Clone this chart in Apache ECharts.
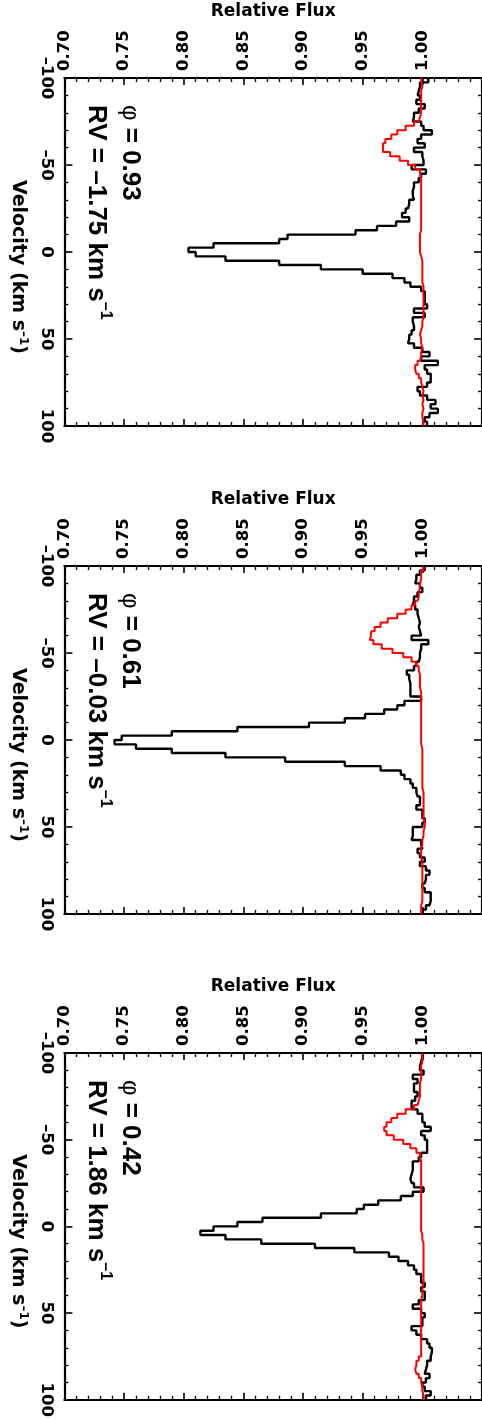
<!DOCTYPE html>
<html><head><meta charset="utf-8">
<script src="https://cdn.jsdelivr.net/npm/echarts@6/dist/echarts.min.js"></script>
<style>html,body{margin:0;padding:0;background:#fff;}#c{width:482px;height:1420px;}</style>
</head><body><div id="c"></div>
<script>
// ---- data ----
const velocityCenters = [
 -98.75,-96.25,-93.75,-91.25,-88.75,-86.25,-83.75,-81.25,-78.75,-76.25,
 -73.75,-71.25,-68.75,-66.25,-63.75,-61.25,-58.75,-56.25,-53.75,-51.25,
 -48.75,-46.25,-43.75,-41.25,-38.75,-36.25,-33.75,-31.25,-28.75,-26.25,
 -23.75,-21.25,-18.75,-16.25,-13.75,-11.25,-8.75,-6.25,-3.75,-1.25,
 1.25,3.75,6.25,8.75,11.25,13.75,16.25,18.75,21.25,23.75,
 26.25,28.75,31.25,33.75,36.25,38.75,41.25,43.75,46.25,48.75,
 51.25,53.75,56.25,58.75,61.25,63.75,66.25,68.75,71.25,73.75,
 76.25,78.75,81.25,83.75,86.25,88.75,91.25,93.75,96.25,98.75];
const binHalfWidth = 1.25;

const obsPhase093 = [
 1.005,0.998,0.997,0.996,0.998,0.995,1.002,0.997,0.993,0.992,
 0.999,1.001,1.008,0.999,0.996,1.002,0.993,1.000,1.001,1.001,
 0.991,1.003,0.999,0.997,0.993,0.992,0.992,0.993,0.989,0.988,
 0.986,0.983,0.989,0.978,0.962,0.944,0.887,0.880,0.825,0.804,
 0.810,0.835,0.880,0.915,0.950,0.975,0.985,0.990,0.999,1.002,
 1.002,1.002,1.004,0.993,1.002,0.992,0.993,0.993,0.991,0.989,
 0.988,0.993,1.000,1.006,0.999,1.013,1.002,1.004,1.007,1.007,
 1.004,0.996,0.998,1.004,1.011,1.007,1.013,1.006,1.002,1.004];
const modPhase093 = [
 0.999,1.000,0.999,0.999,0.999,0.999,0.999,0.999,0.998,0.997,
 0.993,0.986,0.979,0.974,0.969,0.967,0.967,0.973,0.981,0.988,
 0.994,0.998,0.999,0.999,0.999,0.999,0.999,0.999,0.999,0.999,
 0.999,0.999,0.999,0.999,0.999,0.998,0.998,0.998,0.998,0.998,
 0.999,1.000,1.000,1.000,1.000,1.000,1.000,1.001,1.001,1.001,
 1.001,1.001,1.001,1.001,1.001,1.000,1.000,0.999,0.998,0.999,
 0.999,1.000,0.999,0.999,0.998,0.996,0.994,0.995,0.997,0.999,
 1.000,1.001,1.000,1.001,1.000,1.001,1.000,1.000,1.001,1.001];

const obsPhase061 = [
 1.002,0.998,0.995,0.994,0.998,1.000,0.996,0.993,0.992,0.994,
 0.996,0.997,0.998,0.997,0.998,0.999,0.991,1.005,0.999,0.998,
 0.998,0.997,0.995,0.993,0.987,0.989,0.990,0.990,0.990,0.990,
 0.999,0.985,0.979,0.968,0.952,0.935,0.905,0.845,0.790,0.748,
 0.742,0.760,0.790,0.835,0.885,0.935,0.965,0.982,0.985,0.990,
 0.992,0.995,0.996,0.998,0.998,0.995,1.000,1.000,1.002,1.000,
 0.992,0.992,0.991,0.999,1.000,0.996,0.998,1.002,0.998,1.003,
 1.006,1.003,1.002,1.000,1.002,1.007,1.007,1.006,1.003,1.000];
const modPhase061 = [
 1.001,0.999,0.999,0.998,0.998,0.997,0.997,0.996,0.994,0.991,
 0.986,0.979,0.971,0.965,0.960,0.957,0.956,0.959,0.966,0.975,
 0.984,0.991,0.995,0.997,0.998,0.998,0.998,0.998,0.999,0.999,
 0.999,0.999,0.999,0.999,0.999,0.999,0.999,0.999,0.999,0.999,
 0.999,1.000,1.000,1.000,1.000,1.000,1.000,1.000,1.000,1.000,
 1.000,1.001,1.001,1.001,1.001,1.001,1.001,1.001,1.002,1.002,
 1.001,1.001,1.000,1.000,0.999,0.999,0.999,1.000,1.000,1.000,
 1.000,1.000,1.000,1.000,1.000,1.000,1.000,0.999,0.999,0.999];

const obsPhase042 = [
 1.000,0.999,0.998,0.998,1.001,0.992,0.996,0.993,0.993,0.996,
 0.994,0.991,0.991,0.996,1.000,1.000,1.002,1.007,0.999,1.002,
 1.004,1.004,1.004,0.999,0.997,0.992,0.992,0.991,0.990,0.991,
 0.993,1.001,0.992,0.982,0.963,0.951,0.945,0.915,0.866,0.845,
 0.825,0.814,0.835,0.865,0.910,0.943,0.972,0.980,0.988,0.993,
 0.995,0.999,0.999,1.002,0.999,1.002,1.002,0.997,0.992,0.999,
 1.002,1.000,1.000,0.991,0.995,0.999,1.004,1.006,1.008,1.007,
 1.007,1.004,1.003,1.002,1.006,1.003,1.000,1.002,1.007,1.003];
const modPhase042 = [
 1.000,1.000,0.999,0.999,0.999,0.999,0.998,0.998,0.998,0.998,
 0.997,0.996,0.993,0.986,0.979,0.974,0.970,0.968,0.970,0.976,
 0.984,0.990,0.995,0.998,0.999,0.999,0.999,0.999,0.999,0.999,
 0.999,0.999,0.999,0.999,0.999,0.999,0.999,0.999,0.999,0.999,
 0.999,1.000,1.000,1.001,1.001,1.001,1.001,1.001,1.001,1.001,
 1.001,1.001,1.001,1.000,1.000,1.000,0.999,0.999,0.999,0.999,
 0.999,0.999,0.999,0.999,0.999,0.999,0.999,0.999,0.999,0.999,
 0.997,0.995,0.994,0.995,0.997,0.999,1.000,1.000,1.001,1.001];

const phaseLabels = ['0.93', '0.61', '0.42'];
const rvLabels = ['\u20131.75', '\u20130.03', '1.86'];
const fluxTickLabels = ['0.70','0.75','0.80','0.85','0.90','0.95','1.00'];

// ---- chart ----
const chart = echarts.init(document.getElementById('c'), null, {renderer: 'canvas', width: 482, height: 1420});
const FONT = 'DejaVu Sans';
const ANN_FONT = 'Liberation Sans';
const panels = [
  {obs: obsPhase093, mod: modPhase093},
  {obs: obsPhase061, mod: modPhase061},
  {obs: obsPhase042, mod: modPhase042}
];
const gridTops = [78, 566, 1053];
const gridHeights = [348, 348, 349];

function stairs(vals) {
  const pts = [];
  vals.forEach((f, i) => {
    pts.push([f, velocityCenters[i] - binHalfWidth]);
    pts.push([f, velocityCenters[i] + binHalfWidth]);
  });
  return pts;
}
const dashMinus = v => (v < 0 ? '\u2013' + Math.abs(v) : String(v));

const grid = [], xAxis = [], yAxis = [], series = [];
panels.forEach((p, k) => {
  grid.push({left: 63, top: gridTops[k], width: 425, height: gridHeights[k]});
  const line = {onZero: false, lineStyle: {color: '#000', width: 2.2}};
  const fluxBase = {
    type: 'value', gridIndex: k, min: 0.70, max: 1.05, interval: 0.05,
    splitLine: {show: false}, axisLine: line,
    axisTick: {inside: true, length: 7, lineStyle: {color: '#000', width: 1.6}},
    minorTick: {show: true, splitNumber: 5, length: 4, lineStyle: {color: '#000', width: 1.3}}
  };
  xAxis.push(Object.assign({}, fluxBase, {
    position: 'top',
    axisLabel: {rotate: -90, margin: 7, fontFamily: FONT, fontWeight: 'bold', fontSize: 16.5, color: '#000',
      formatter: v => { const s = v.toFixed(2); return fluxTickLabels.indexOf(s) >= 0 ? s : ''; }},
    name: 'Relative Flux', nameLocation: 'middle', nameGap: 58,
    nameTextStyle: {fontFamily: FONT, fontWeight: 'bold', fontSize: 17, color: '#000'}
  }));
  xAxis.push(Object.assign({}, fluxBase, {position: 'bottom', axisLabel: {show: false}}));

  const velBase = {
    type: 'value', gridIndex: k, min: -100, max: 100, interval: 50, inverse: true,
    splitLine: {show: false}, axisLine: line,
    axisTick: {inside: true, length: 8, lineStyle: {color: '#000', width: 1.6}},
    minorTick: {show: true, splitNumber: 5, length: 4, lineStyle: {color: '#000', width: 1.3}}
  };
  yAxis.push(Object.assign({}, velBase, {
    position: 'left',
    axisLabel: {rotate: -90, margin: 10, fontFamily: FONT, fontWeight: 'bold', fontSize: 16.5, color: '#000', formatter: dashMinus},
    name: '{a|Velocity (km s}{s|\u20131}{a|)}', nameLocation: 'middle', nameRotate: -90, nameGap: 31,
    nameTextStyle: {color: '#000', padding: [0, 0, 0, 30], rich: {
      a: {fontFamily: FONT, fontWeight: 'bold', fontSize: 19, lineHeight: 24, color: '#000'},
      s: {fontFamily: FONT, fontWeight: 'bold', fontSize: 12, lineHeight: 13, verticalAlign: 'top', color: '#000'}
    }}
  }));
  yAxis.push(Object.assign({}, velBase, {position: 'right', axisLabel: {show: false}}));

  series.push({
    type: 'line', xAxisIndex: 2 * k, yAxisIndex: 2 * k, data: stairs(p.obs),
    showSymbol: false, symbol: 'none', clip: true, animation: false,
    lineStyle: {color: '#000', width: 2.4}, z: 3
  });
  series.push({
    type: 'line', xAxisIndex: 2 * k, yAxisIndex: 2 * k, data: stairs(p.mod),
    showSymbol: false, symbol: 'none', clip: true, animation: false,
    lineStyle: {color: '#ff0000', width: 2}, z: 4
  });
});

chart.setOption({backgroundColor: '#fff', animation: false, grid, xAxis, yAxis, series});

// annotations anchored in data coordinates
const annPhaseFlux = 0.755, annRvFlux = 0.7265, annVel = -84.5;
const richStyle = {
  n: {fontFamily: ANN_FONT, fontWeight: 'bold', fontSize: 26, lineHeight: 34, fill: '#000'},
  p: {fontFamily: ANN_FONT, fontWeight: 'normal', fontSize: 24, lineHeight: 34, fill: '#000'},
  s: {fontFamily: ANN_FONT, fontWeight: 'bold', fontSize: 16, lineHeight: 18, verticalAlign: 'top', fill: '#000'}
};
const graphic = [];
panels.forEach((p, k) => {
  const a = chart.convertToPixel({xAxisIndex: 2 * k, yAxisIndex: 2 * k}, [annPhaseFlux, annVel]);
  const b = chart.convertToPixel({xAxisIndex: 2 * k, yAxisIndex: 2 * k}, [annRvFlux, annVel]);
  graphic.push({type: 'text', x: a[0], y: a[1], rotation: -Math.PI / 2,
    style: {text: '{p|\u03c6}{n| = ' + phaseLabels[k] + '}', rich: richStyle, align: 'left', textAlign: 'left', verticalAlign: 'middle', textVerticalAlign: 'middle', fill: '#000'}});
  graphic.push({type: 'text', x: b[0], y: b[1], rotation: -Math.PI / 2,
    style: {text: '{n|RV = ' + rvLabels[k] + ' km s}{s|\u20131}', rich: richStyle, align: 'left', textAlign: 'left', verticalAlign: 'middle', textVerticalAlign: 'middle', fill: '#000'}});
});
chart.setOption({graphic});
</script>
</body></html>
